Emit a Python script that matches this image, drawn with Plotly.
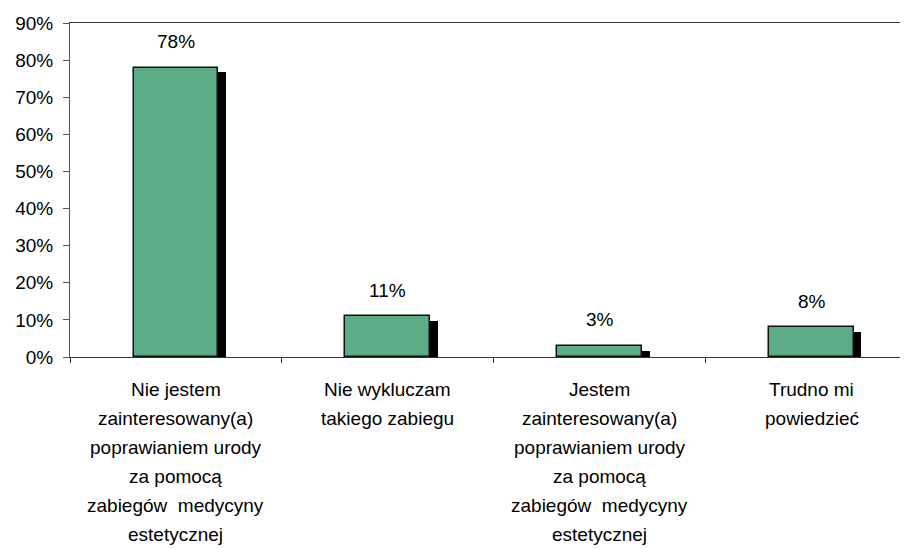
import plotly.graph_objects as go

categories = [
    "Nie jestem zainteresowany(a) poprawianiem urody za pomocą zabiegów medycyny estetycznej",
    "Nie wykluczam takiego zabiegu",
    "Jestem zainteresowany(a) poprawianiem urody za pomocą zabiegów medycyny estetycznej",
    "Trudno mi powiedzieć",
]
label_lines = [
    ["Nie jestem", "zainteresowany(a)", "poprawianiem urody", "za pomocą", "zabiegów  medycyny", "estetycznej"],
    ["Nie wykluczam", "takiego zabiegu"],
    ["Jestem", "zainteresowany(a)", "poprawianiem urody", "za pomocą", "zabiegów  medycyny", "estetycznej"],
    ["Trudno mi", "powiedzieć"],
]
values = [78, 11, 3, 8]
y_ticks = [0, 10, 20, 30, 40, 50, 60, 70, 80, 90]

FONT = "Liberation Sans, Arial, sans-serif"
FS = 19
SHADOW_DROP = 1.3  # shadow sits slightly lower than the bar top (axis units)

fig = go.Figure()

# shadow bars (behind)
fig.add_trace(go.Bar(
    x=categories, y=[v - SHADOW_DROP for v in values],
    width=0.045, offset=0.19,
    marker=dict(color="black", line=dict(width=0)),
    hoverinfo="skip", showlegend=False,
))
# main bars
fig.add_trace(go.Bar(
    x=categories, y=values,
    width=0.4, offset=-0.2,
    marker=dict(color="#5cad86", line=dict(color="#111111", width=1.5)),
    showlegend=False,
))

annotations = []
for c, v in zip(categories, values):
    annotations.append(dict(
        x=c, y=v, xref="x", yref="y", text=f"{v}%", showarrow=False,
        yanchor="middle", yshift=26, font=dict(family=FONT, size=FS, color="black"),
    ))
for c, lines in zip(categories, label_lines):
    for k, line in enumerate(lines):
        annotations.append(dict(
            x=c, y=0, xref="x", yref="paper", text=line, showarrow=False,
            yanchor="middle", yshift=-(32 + 29.1 * k),
            font=dict(family=FONT, size=FS, color="black"),
        ))

# page body has an 8px default margin -> figure is 8px smaller on each used side
fig.update_layout(
    width=900, height=541,
    margin=dict(l=62, r=1, t=15, b=192),
    paper_bgcolor="white", plot_bgcolor="white",
    barmode="overlay", bargap=0,
    font=dict(family=FONT, size=FS, color="black"),
    annotations=annotations,
)
fig.update_xaxes(
    type="category", range=[-0.5, 3.45],
    showticklabels=False, tickson="boundaries",
    ticks="outside", ticklen=5, tickcolor="#333",
    showline=True, linecolor="#333", linewidth=1, mirror=True,
    showgrid=False, zeroline=False,
)
fig.update_yaxes(
    range=[0, 90], tickvals=y_ticks, ticktext=[f"{t}%" for t in y_ticks],
    ticks="outside", ticklen=6, tickcolor="#555", ticklabelstandoff=6,
    showline=True, linecolor="#555", linewidth=1,
    showgrid=False, zeroline=False,
    tickfont=dict(family=FONT, size=FS, color="black"),
)

fig.write_html("out.html")
